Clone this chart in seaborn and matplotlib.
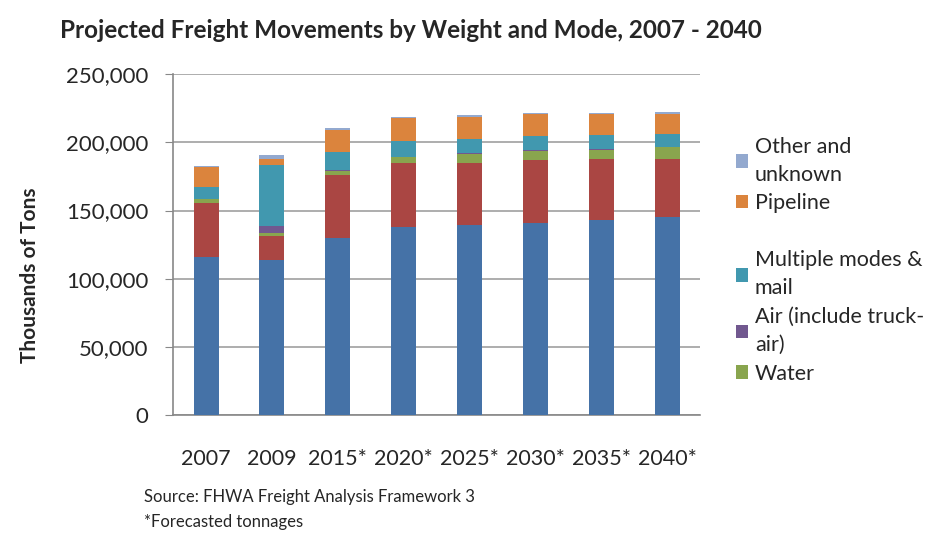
import numpy as np
import pandas as pd
import seaborn as sns
import matplotlib.pyplot as plt
from matplotlib.patches import Patch

years = ["2007", "2009", "2015*", "2020*", "2025*", "2030*", "2035*", "2040*"]

truck = [116000, 114100, 130200, 137800, 139300, 141200, 143400, 145600]
rail = [39200, 17300, 45700, 47100, 45600, 45900, 44700, 42200]
water = [3400, 2000, 3400, 4200, 6600, 6600, 6400, 8600]
air = [200, 5600, 300, 300, 300, 300, 300, 300]
multiple = [8800, 44700, 13000, 11900, 10500, 10700, 10600, 9400]
pipeline = [14100, 4400, 16600, 16600, 16600, 15700, 15700, 14500]
other = [1300, 2900, 1000, 1000, 1000, 1000, 700, 1900]

modes = ["Truck", "Rail", "Water", "Air (include truck-\nair)",
         "Multiple modes &\nmail", "Pipeline", "Other and\nunknown"]
colors = ["#4572A7", "#AA4643", "#89A54E", "#71588F", "#4198AF", "#DB843D", "#93A9CF"]

df = pd.DataFrame(dict(zip(modes, [truck, rail, water, air, multiple, pipeline, other])),
                  index=years)
cum = df.cumsum(axis=1)
cum["year"] = years

sns.set_style("white")
plt.rcParams["font.family"] = ["Lato", "DejaVu Sans"]

fig = plt.figure(figsize=(9.26, 5.33), dpi=100)
ax = fig.add_axes([0.187, 0.221, 0.569, 0.640])

# stacked bars: draw cumulative totals from the top layer down
for mode, color in reversed(list(zip(modes, colors))):
    sns.barplot(data=cum, x="year", y=mode, color=color, width=0.38,
                saturation=1, linewidth=0, ax=ax, zorder=3)

ax.set_ylim(0, 250000)
ax.set_xlim(-0.5, 7.5)
ax.set_yticks(np.arange(0, 250001, 50000))
ax.set_yticklabels([f"{v:,}" for v in range(0, 250001, 50000)], fontsize=16)
ax.set_xticks(range(len(years)))
ax.set_xticklabels(years, fontsize=15.5)
ax.set_xticks(np.arange(-0.5, 8, 1), minor=True)
ax.tick_params(axis="x", which="major", length=0, pad=24)
ax.tick_params(axis="x", which="minor", length=6, color="#888888", direction="out")
ax.tick_params(axis="y", length=6, color="#888888", direction="out", left=True, pad=12)
ax.yaxis.grid(True, color="#A0A0A0", linewidth=1.2, zorder=0)
ax.set_axisbelow(True)
for s in ["top", "right"]:
    ax.spines[s].set_visible(False)
for s in ["left", "bottom"]:
    ax.spines[s].set_color("#888888")
    ax.spines[s].set_linewidth(1.2)

ax.set_xlabel("")
ax.set_ylabel("")
fig.text(0.032, 1 - 275 / 533, "Thousands of Tons", rotation=90, fontsize=15,
         fontweight="bold", ha="center", va="center")

fig.text(0.065, 0.965, "Projected Freight Movements by Weight and Mode, 2007 - 2040",
         fontsize=17.5, fontweight="bold", va="top")
fig.text(0.155, 0.068, "Source: FHWA Freight Analysis Framework 3", fontsize=12, va="center")
fig.text(0.155, 0.02, "*Forecasted tonnages", fontsize=12, va="center")

legend_order = [6, 5, None, 4, 3, 2]
handles = []
for i in legend_order:
    if i is None:
        handles.append(Patch(facecolor="none", edgecolor="none", label=" "))
    else:
        handles.append(Patch(facecolor=colors[i], edgecolor="none", label=modes[i]))
leg = fig.legend(handles=handles, loc="upper left", bbox_to_anchor=(0.785, 0.76),
                 frameon=False, fontsize=15.5, handlelength=0.6, handleheight=0.6,
                 handletextpad=0.3, labelspacing=0.4, borderaxespad=0)
for t in leg.get_texts():
    t.set_linespacing(1.5)

fig.savefig("out.png", dpi=100)
